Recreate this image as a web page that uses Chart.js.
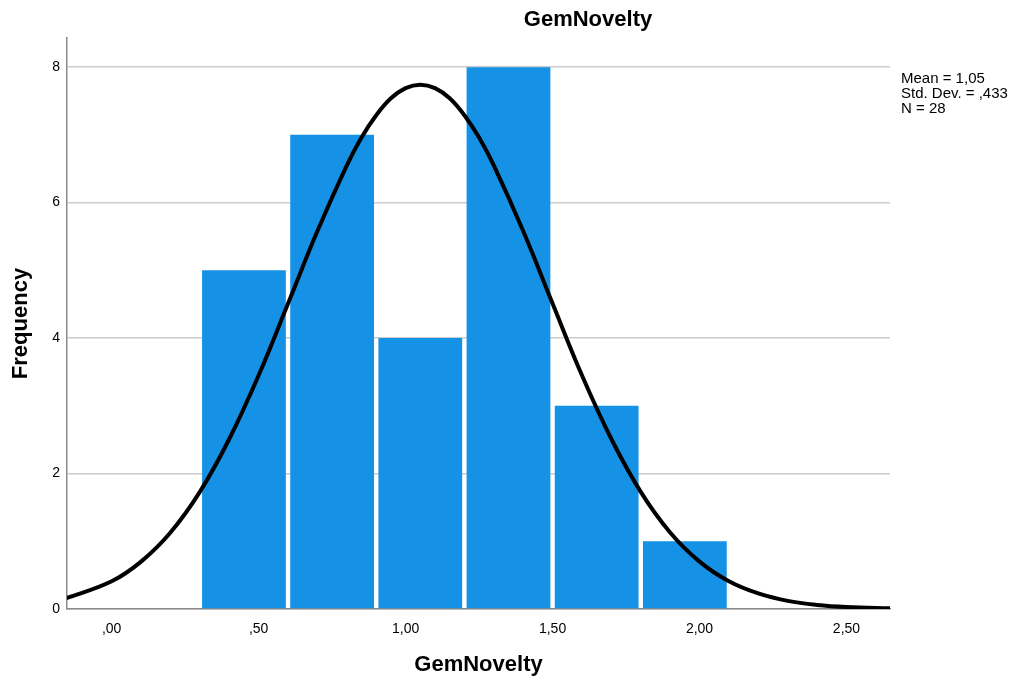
<!DOCTYPE html>
<html>
<head>
<meta charset="utf-8">
<title>GemNovelty</title>
<script src="https://cdn.jsdelivr.net/npm/chart.js@4.4.1/dist/chart.umd.min.js"></script>
<style>
  body { margin: 0; background: #fff; }
  #wrap { width: 1014px; height: 686px; }
</style>
</head>
<body>
<div id="wrap"><canvas id="histo"></canvas></div>
<script>
// histogram bins (centre of each 0.3 wide bin) and counts
const binCenters = [0.45, 0.75, 1.05, 1.35, 1.65, 1.95];
const frequencies = [5, 7, 4, 8, 3, 1];

// normal curve
const curveX = [-0.16, 0, 0.1, 0.2, 0.3, 0.4, 0.5, 0.6, 0.7, 0.8, 0.85, 0.9, 0.95, 1.0, 1.05, 1.1, 1.15, 1.2, 1.25, 1.3, 1.4, 1.5, 1.6, 1.7, 1.8, 1.9, 2.0, 2.1, 2.2, 2.3, 2.4, 2.5, 2.66];
const curveY = [0.15, 0.41, 0.70, 1.13, 1.73, 2.51, 3.45, 4.51, 5.58, 6.55, 6.96, 7.29, 7.54, 7.69, 7.74, 7.69, 7.54, 7.29, 6.96, 6.55, 5.58, 4.51, 3.45, 2.51, 1.73, 1.13, 0.70, 0.41, 0.23, 0.12, 0.06, 0.03, 0.01];

const xTickValues = [0, 0.5, 1.0, 1.5, 2.0, 2.5];
const xTickLabels = [',00', ',50', '1,00', '1,50', '2,00', '2,50'];
const yTickValues = [0, 2, 4, 6, 8];

const statsLines = ['Mean = 1,05', 'Std. Dev. = ,433', 'N = 28'];
const titleText = 'GemNovelty';

Chart.defaults.font.family = '"Liberation Sans", Arial, sans-serif';
Chart.defaults.color = '#000';

// title and the stats box sit outside the chart area, draw them by hand
const extraText = {
  id: 'extraText',
  afterDraw(chart) {
    const c = chart.ctx;
    c.save();
    c.fillStyle = '#000';
    c.font = 'bold 22px "Liberation Sans", Arial, sans-serif';
    c.textAlign = 'center';
    c.textBaseline = 'middle';
    c.fillText(titleText, 588, 20);
    c.font = '15px "Liberation Sans", Arial, sans-serif';
    c.textAlign = 'left';
    c.textBaseline = 'alphabetic';
    statsLines.forEach(function (s, i) {
      c.fillText(s, 901, 83 + i * 15);
    });
    c.restore();
  }
};

const ctx = document.getElementById('histo');

new Chart(ctx, {
  type: 'bar',
  data: {
    datasets: [{
      type: 'line',
      data: curveX.map((x, i) => ({ x: x, y: curveY[i] })),
      borderColor: '#000',
      borderWidth: 4,
      pointRadius: 0,
      tension: 0.4,
      order: 0
    }, {
      type: 'bar',
      data: binCenters.map((x, i) => ({ x: x, y: frequencies[i] })),
      backgroundColor: '#1591e6',
      borderWidth: 0,
      categoryPercentage: 1,
      barPercentage: 0.95,
      order: 1
    }]
  },
  options: {
    animation: false,
    responsive: true,
    maintainAspectRatio: false,
    layout: { padding: { top: 38, right: 124, left: 0, bottom: 0 } },
    plugins: {
      legend: { display: false },
      tooltip: { enabled: false }
    },
    scales: {
      x: {
        type: 'linear',
        offset: false,
        min: -0.152,
        max: 2.648,
        afterBuildTicks: s => { s.ticks = xTickValues.map(v => ({ value: v })); },
        afterFit: s => { s.height = 77; },
        ticks: {
          font: { size: 14 },
          padding: 12,
          maxRotation: 0,
          callback: v => xTickLabels[xTickValues.indexOf(v)]
        },
        grid: { display: false, drawTicks: false },
        border: { display: true, color: '#8a8a8a', width: 1.5 },
        title: {
          display: true,
          text: 'GemNovelty',
          font: { size: 22, weight: 'bold' },
          padding: { top: 0, bottom: 8 }
        }
      },
      y: {
        min: 0,
        max: 8.43,
        afterBuildTicks: s => { s.ticks = yTickValues.map(v => ({ value: v })); },
        afterFit: s => { s.width = 67; },
        ticks: { font: { size: 14 }, padding: 7 },
        grid: { color: '#cccccc', lineWidth: 1.5, drawTicks: false },
        border: { display: true, color: '#8a8a8a', width: 1.5 },
        title: {
          display: true,
          text: 'Frequency',
          font: { size: 22, weight: 'bold' },
          padding: { top: 8, bottom: 0 }
        }
      }
    }
  },
  plugins: [extraText]
});
</script>
</body>
</html>
